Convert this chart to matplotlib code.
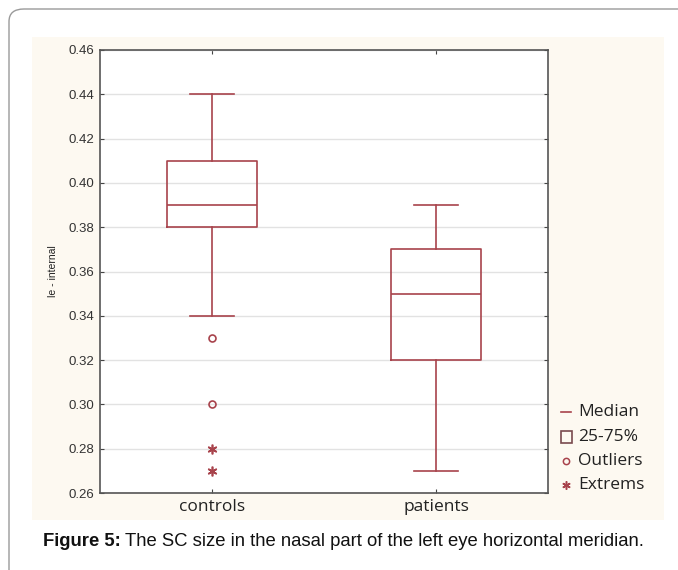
import matplotlib
matplotlib.use("Agg")
import matplotlib.pyplot as plt
from matplotlib.patches import FancyBboxPatch, Rectangle
from matplotlib.lines import Line2D

categories = ["controls", "patients"]
whisker_low = [0.34, 0.27]
q1 = [0.38, 0.32]
median = [0.39, 0.35]
q3 = [0.41, 0.37]
whisker_high = [0.44, 0.39]
outliers = [[0.33, 0.30], []]
extremes = [[0.28, 0.27], []]
yticks = [0.26, 0.28, 0.30, 0.32, 0.34, 0.36, 0.38, 0.40, 0.42, 0.44, 0.46]
legend_labels = ["Median", "25-75%", "Outliers", "Extrems"]

RED = "#a8434c"
CREAM = "#fdf9f1"
W, H = 678, 570

fig = plt.figure(figsize=(W / 100, H / 100), dpi=100)
fig.patch.set_facecolor("white")

def fx(x):
    return x / W

def fy(y):
    return 1 - y / H

# outer rounded frame
frame = FancyBboxPatch((fx(9), fy(590)), fx(700), 590 / H - 9 / H,
                       boxstyle="round,pad=0,rounding_size=0.022",
                       transform=fig.transFigure, facecolor="white",
                       edgecolor="#9a9a9a", linewidth=1.0, zorder=0)
fig.add_artist(frame)
# cream panel
panel = Rectangle((fx(32), fy(520)), fx(664 - 32), (520 - 37) / H,
                  transform=fig.transFigure, facecolor=CREAM,
                  edgecolor="none", zorder=0.5)
fig.add_artist(panel)

ax = fig.add_axes([fx(100), fy(493), fx(548 - 100), (493 - 50) / H])
ax.set_facecolor("white")
ax.set_zorder(2)

stats = []
for i, c in enumerate(categories):
    stats.append(dict(label=c, whislo=whisker_low[i], q1=q1[i], med=median[i],
                      q3=q3[i], whishi=whisker_high[i], fliers=[]))
positions = list(range(1, len(categories) + 1))
ax.bxp(stats, positions=positions, widths=0.4, showfliers=False,
       boxprops=dict(color=RED, linewidth=1.2),
       medianprops=dict(color=RED, linewidth=1.2),
       whiskerprops=dict(color=RED, linewidth=1.2),
       capprops=dict(color=RED, linewidth=1.2), capwidths=0.2)

for i, p in enumerate(positions):
    if outliers[i]:
        ax.plot([p] * len(outliers[i]), outliers[i], linestyle="none",
                marker="o", markersize=5, markerfacecolor="none",
                markeredgecolor=RED, markeredgewidth=1.2, zorder=3)
    if extremes[i]:
        ax.plot([p] * len(extremes[i]), extremes[i], linestyle="none",
                marker=(6, 2, 0), markersize=7, markeredgecolor=RED,
                markeredgewidth=1.2, zorder=3)

ax.set_xlim(0.5, 2.5)
ax.set_ylim(yticks[0], yticks[-1])
ax.set_yticks(yticks)
ax.set_yticklabels([f"{v:.2f}" for v in yticks], fontsize=9.5,
                   family="Liberation Sans", color="#333333")
ax.set_xticks(positions)
ax.set_xticklabels(categories, fontsize=12.5, family="Open Sans", color="#222222")
ax.yaxis.grid(True, color="#e2e2e2", linewidth=1.0)
ax.set_axisbelow(True)
ax.tick_params(axis="both", direction="in", length=3, color="#444444",
               top=True, right=True, pad=4)
ax.tick_params(axis="x", pad=4)
for s in ax.spines.values():
    s.set_color("#555555")
    s.set_linewidth(1.2)
ax.set_ylabel("le - internal", fontsize=7.5, family="Liberation Sans",
              color="#222222", labelpad=8)

# legend (manual)
leg_y = [412, 437, 461, 485]
mx = fx(566)
tx = fx(578)
fig.add_artist(Line2D([fx(561), fx(571)], [fy(leg_y[0])] * 2,
                      transform=fig.transFigure, color=RED, linewidth=1.2))
fig.add_artist(Rectangle((fx(561), fy(leg_y[1] + 6)), fx(11), 12 / H,
                         transform=fig.transFigure, facecolor="none",
                         edgecolor="#7a4a4e", linewidth=1.2))
fig.add_artist(Line2D([mx], [fy(leg_y[2])], transform=fig.transFigure,
                      marker="o", markersize=4.5, markerfacecolor="none",
                      markeredgecolor=RED, markeredgewidth=1.1, linestyle="none"))
fig.add_artist(Line2D([mx], [fy(leg_y[3])], transform=fig.transFigure,
                      marker=(6, 2, 0), markersize=6, markeredgecolor=RED,
                      markeredgewidth=1.1, linestyle="none"))
for lbl, y in zip(legend_labels, leg_y):
    fig.text(tx, fy(y), lbl, fontsize=12.5, family="Open Sans", color="#222222",
             va="center", ha="left")

# caption
cap_y = fy(541)
t1 = fig.text(fx(43), cap_y, "Figure 5:", fontsize=13.3, family="Liberation Sans",
              weight="bold", va="center", ha="left", color="#111111")
fig.canvas.draw()
bb = t1.get_window_extent()
fig.text(bb.x1 / W + fx(4), cap_y,
         "The SC size in the nasal part of the left eye horizontal meridian.",
         fontsize=13.3, family="Liberation Sans", va="center", ha="left",
         color="#111111")

fig.savefig("out.png", dpi=100)
